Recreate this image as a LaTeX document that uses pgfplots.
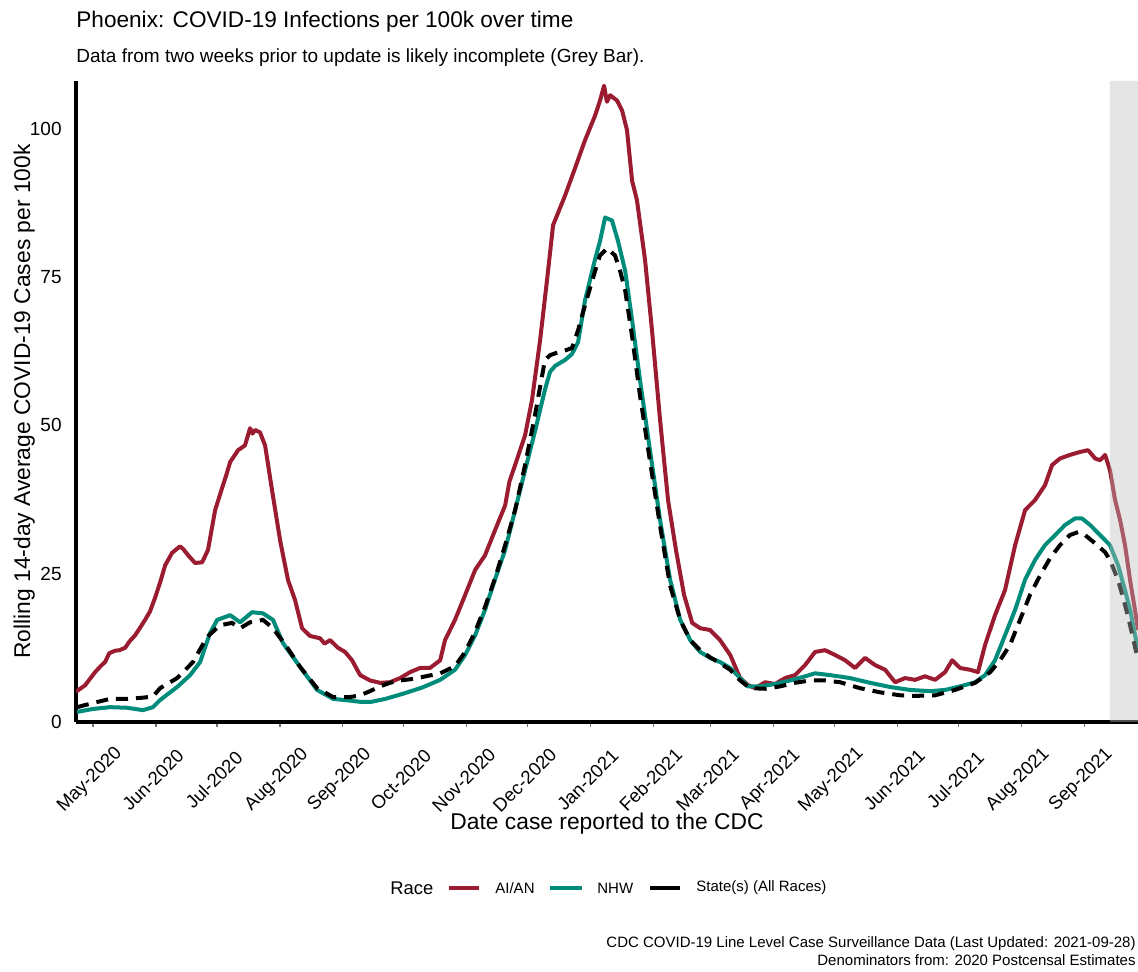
\documentclass[border=0pt]{standalone}
\usepackage{fontspec}
\setmainfont{Liberation Sans}
\usepackage{pgfplots}
\pgfplotsset{compat=1.18}
\definecolor{aian}{RGB}{155,27,48}
\definecolor{nhw}{RGB}{0,140,122}
\definecolor{greybar}{RGB}{190,190,190}
\newcommand{\fs}[1]{\fontsize{#1}{#1}\selectfont}
\begin{document}
\begin{tikzpicture}
\useasboundingbox (-38bp,-125bp) rectangle (531bp,361bp);
\begin{axis}[
 at={(0,0)}, anchor=south west, scale only axis,
 width=531bp, height=320.5bp,
 xmin=-8.4, xmax=514.5, ymin=0, ymax=108,
 axis x line=bottom, axis y line=left,
 axis line style={-, line width=1.6bp, black},
 xtick={0,31,61,92,123,153,184,214,245,276,304,335,365,396,426,457,488},
 xticklabels={May-2020,Jun-2020,Jul-2020,Aug-2020,Sep-2020,Oct-2020,Nov-2020,Dec-2020,Jan-2021,Feb-2021,Mar-2021,Apr-2021,May-2021,Jun-2021,Jul-2021,Aug-2021,Sep-2021},
 ytick={0,25,50,75,100},
 tick align=outside,
 major tick length=2.5bp,
 x tick style={black!55, line width=0.6bp},
 y tick style={draw=none},
 xticklabel style={font=\fs{9.3bp}, anchor=center, xshift=-1.5bp, yshift=-26.5bp, rotate=45},
 yticklabel style={font=\fs{9.5bp}, anchor=east, inner sep=0pt, xshift=-4.5bp},
 /pgf/number format/assume math mode=true,
]
\addplot[aian, line width=2bp, line join=round] coordinates {
(-8.4,5.1) (-3.9,6.2) (1,8.4) (4,9.5) (5.9,10.1) (8,11.6) (10.8,12) (13,12.1) (15.8,12.5) (18,13.6) (20.7,14.6) (23,15.8) (25.6,17.2) (28,18.6) (30.5,20.9) (33,23.5) (35.5,26.4) (38.9,28.5) (42.8,29.6) (44.5,29.1) (46.8,28.1) (50.2,26.8) (53.7,26.9) (56.6,29) (60.1,35.7) (63.5,39.4) (65.5,41.5) (67.5,43.8) (71.4,45.8) (74.8,46.6) (77.3,49.5) (78.5,48.6) (79.8,49.2) (82.2,48.8) (84.7,46.6) (88.1,39.1) (92.1,30.6) (96,23.9) (99.5,20.5) (102.9,15.8) (106.8,14.5) (111.8,14.1) (114,13.2) (116.7,13.8) (120.6,12.5) (124.1,11.8) (127.5,10.4) (131.5,7.9) (136.4,7) (141.3,6.6) (146.2,6.7) (151.2,7.4) (156.1,8.4) (161,9.1) (165.9,9.1) (170.9,10.4) (173.3,13.8) (178.2,17.2) (183.2,21.4) (188.1,25.6) (193,28.1) (197.9,32.3) (202.9,36.5) (205,40.5) (207.8,43.3) (212.7,48.3) (216.1,54.2) (220.1,64.3) (223.5,74.4) (226.5,83.7) (228.5,85.4) (232.4,88.7) (237.3,93.3) (242.2,98) (247.2,102.2) (249.6,104.7) (251.6,107.2) (253,104.5) (254.6,105.6) (258,104.7) (260.5,103) (262.9,99.7) (265.4,91.2) (267.8,87.9) (271.8,77.8) (275.2,66) (279.2,50.8) (283.1,37.4) (287,29) (291,21.4) (295,16.7) (298.9,15.8) (303.8,15.5) (308.7,13.8) (313.7,11.3) (318.6,7.4) (322.5,6.2) (326,5.7) (330.9,6.7) (335.8,6.4) (340.7,7.4) (345.6,7.9) (350.6,9.6) (355.5,11.8) (360.4,12.1) (365.3,11.3) (370.3,10.4) (375.2,9.1) (380.1,10.8) (385,9.6) (390,8.8) (394.9,6.7) (399.8,7.4) (404.7,7.1) (409.6,7.7) (414.6,7.1) (419.5,8.4) (423,10.4) (426.9,9.1) (431.8,8.8) (435.7,8.4) (439.2,13) (444.1,18) (449,22.2) (454,29.8) (458.9,35.7) (463.8,37.4) (468.7,39.9) (472.2,43.3) (476.1,44.4) (481,45) (486,45.5) (489.9,45.8) (493.4,44.4) (495.8,44.1) (498.3,45) (500.7,42.4) (503.2,37.4) (505.7,34) (508.1,29.8) (510.6,23.9) (513,18.9) (514.5,15.5)
};
\addplot[nhw, line width=2bp, line join=round] coordinates {
(-7.9,1.7) (0,2.2) (8.4,2.5) (16.7,2.4) (24.6,2.0) (29.5,2.5) (33,3.7) (41.4,5.9) (47.8,7.9) (52.7,10.1) (57.6,15) (61.1,17.2) (67.5,18) (72.4,16.8) (78.3,18.5) (83.7,18.3) (88.6,17.2) (93.5,13.3) (101.9,9.3) (110.3,5.4) (118.2,3.9) (126.5,3.6) (131.5,3.4) (137,3.4) (144,3.9) (153,4.8) (162,5.8) (170.9,7.1) (178.2,8.8) (183.2,11.3) (188.1,14.6) (193,18.9) (197.9,24) (202.9,29) (207.8,35.7) (212.7,42.4) (217.6,49) (222.5,56) (225,59) (227.5,60) (232.4,61) (235.8,62) (238.8,64) (242.2,71) (247.2,78) (249.6,81) (252.1,85) (255.5,84.5) (258.5,81) (262,76) (265.4,67.7) (269.3,57.6) (274.2,45.8) (279.2,34) (284.1,24) (289.1,17.2) (294,13.8) (298.9,11.8) (303.8,10.8) (308.7,10.1) (313.7,9.1) (318.6,7.4) (322.5,6) (328.4,6) (335.8,6.4) (343.2,7) (350.6,7.7) (355.5,8.2) (362.9,7.9) (372.7,7.4) (382.6,6.6) (392.4,5.9) (402.3,5.4) (412.1,5.2) (419.5,5.4) (426.9,6) (434.3,6.7) (439.2,7.9) (444.1,10.4) (449,14.6) (454,18.9) (458.9,24) (463.8,27.3) (468.7,29.8) (473.7,31.5) (478.6,33.2) (483.5,34.3) (486.9,34.3) (490.9,33.2) (495.8,31.5) (500.7,29.8) (504.7,26.4) (508.1,22.2) (510.6,18.9) (514.5,12.1)
};
\addplot[black, line width=2bp, dash pattern=on 6bp off 4bp] coordinates {
(-7.9,2.5) (0,3.2) (8.4,3.9) (16.7,3.9) (24.6,4.1) (29.5,4.3) (33,5.7) (41.4,7.4) (49.2,10.1) (56.1,14.3) (62.5,16.3) (68.4,16.7) (72.4,15.8) (77.3,16.8) (83.7,17.2) (88.6,15.8) (95.5,12.6) (101.9,9.3) (110.3,5.7) (118.2,4.2) (126.5,4.2) (131.5,4.5) (136.4,5.2) (141.3,6) (146.2,6.6) (151.2,7.0) (156.1,7.2) (161,7.5) (170.9,8.2) (178.2,9.4) (183.2,11.8) (188.1,15.2) (193,19.4) (197.9,24.2) (202.9,29.8) (207.8,35.7) (212.7,43.3) (217.6,51.7) (222.5,61) (225,61.8) (229,62.3) (232.4,62.6) (235.8,63) (238.8,66) (242.2,70.2) (247.2,76) (249.6,78.6) (253.1,79.8) (257,78.6) (259.5,76) (262,72.7) (265.4,65) (269.3,55) (274.2,44) (279.2,33) (284.1,23) (289.1,17.2) (294,13.8) (298.9,12.1) (303.8,10.9) (308.7,9.9) (313.7,8.8) (318.6,7) (323.5,5.7) (330.9,5.6) (338.3,6) (345.6,6.6) (353,7) (360.4,7) (367.8,6.7) (377.6,5.7) (387.5,5) (397.3,4.5) (404.7,4.4) (414.6,4.5) (424.4,5.4) (434.3,6.6) (441.7,8.4) (446.6,10.4) (451.5,13) (456.4,17.2) (461.3,21.4) (466.3,24.7) (471.2,27.6) (476.1,29.8) (481,31.5) (485,32) (488.4,31.5) (493.4,30.1) (498.3,28.6) (500.7,27.3) (504.7,23.9) (508.1,19.7) (510.6,16.3) (514.5,10.4)
};
\addplot[draw=none, fill=greybar, fill opacity=0.4] coordinates {(500.7,0) (500.7,108) (514.5,108) (514.5,0)} \closedcycle;
\end{axis}
% titles
\node[anchor=base west, inner sep=0pt, font=\fs{11.3bp}] at (0bp,347bp) {Phoenix: COVID-19 Infections per 100k over time};
\node[anchor=base west, inner sep=0pt, font=\fs{9.5bp}] at (0bp,329.5bp) {Data from two weeks prior to update is likely incomplete (Grey Bar).};
\node[anchor=base, inner sep=0pt, font=\fs{11.4bp}] at (265.5bp,-53.5bp) {Date case reported to the CDC};
\node[anchor=base, inner sep=0pt, rotate=90, font=\fs{11.4bp}] at (-23bp,160.25bp) {Rolling 14-day Average COVID-19 Cases per 100k};
% legend
\node[anchor=west, inner sep=0pt, font=\fs{9.2bp}] at (157bp,-83bp) {Race};
\draw[aian, line width=2.2bp] (186.5bp,-83bp) -- (201.5bp,-83bp);
\node[anchor=west, inner sep=0pt, font=\fs{7.5bp}] at (209.5bp,-83bp) {AI/AN};
\draw[nhw, line width=2.2bp] (237bp,-83bp) -- (253bp,-83bp);
\node[anchor=west, inner sep=0pt, font=\fs{7.5bp}] at (260.5bp,-83bp) {NHW};
\draw[black, line width=2.2bp] (287bp,-83bp) -- (302bp,-83bp);
\node[anchor=west, inner sep=0pt, font=\fs{7.5bp}] at (310bp,-83bp) {State(s) (All Races)};
% caption
\node[anchor=base east, inner sep=0pt, font=\fs{7.5bp}] at (530bp,-112.5bp) {CDC COVID-19 Line Level Case Surveillance Data (Last Updated: 2021-09-28)};
\node[anchor=base east, inner sep=0pt, font=\fs{7.5bp}] at (530bp,-121.5bp) {Denominators from: 2020 Postcensal Estimates};
\end{tikzpicture}
\end{document}
